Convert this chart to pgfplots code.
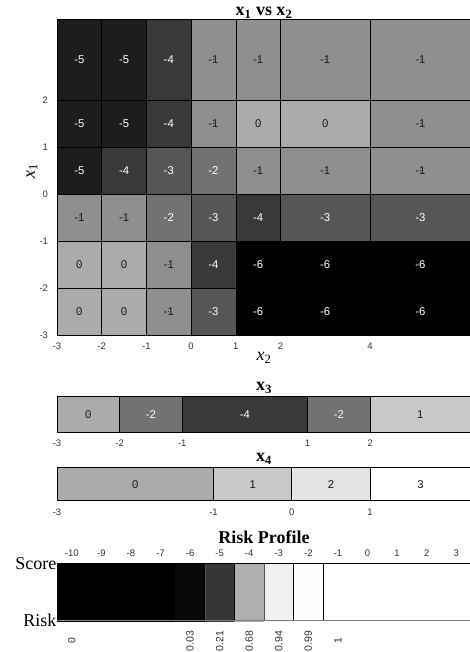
\documentclass[border=0pt]{standalone}
\usepackage{pgfplots}
\pgfplotsset{compat=1.18}
\usepackage{fontspec}
\setmainfont{Liberation Serif}
\setsansfont{Liberation Sans}

\pgfplotsset{
  base/.style={scale only axis,
    /pgf/number format/assume math mode=true,
    tick label style={font=\sffamily\fontsize{9.5}{11}\selectfont, text=black!80},
    major tick length=0pt,
    colormap={bw}{gray(0cm)=(0); gray(1cm)=(1)},
    axis line style={black!60, line width=0.6pt},
    every axis title/.style={font=\rmfamily\bfseries\fontsize{18}{20}\selectfont,
      at={(axis description cs:0.5,1)}, anchor=base},
  },
  cell/.style={patch, patch type=rectangle, shader=faceted, faceted color=black,
    line width=0.6pt, point meta=explicit},
  lblw/.style={only marks, mark=*, mark size=0.1pt, mark options={draw=none,fill=none},
    point meta=explicit symbolic, nodes near coords, nodes near coords align={center},
    every node near coord/.append style={font=\sffamily\fontsize{11.3}{13}\selectfont,
      text=white, inner sep=0pt}},
  lblb/.style={lblw, every node near coord/.append style={text=black!90}},
}

\begin{document}
\begin{tikzpicture}

% ---------------- x1 vs x2 heatmap ----------------
\begin{axis}[base, at={(57pt,-19pt)}, anchor=north west,
  width=414pt, height=316pt,
  xmin=-3, xmax=6.26, ymin=-3, ymax=3.72,
  xtick={-3,-2,-1,0,1,2,4}, ytick={-3,-2,-1,0,1,2},
  xticklabel style={yshift=-4.5pt}, yticklabel style={xshift=-5.5pt},
  point meta min=-6, point meta max=3,
  title={x\textsubscript{1} vs x\textsubscript{2}},
  title style={yshift=3.3pt},
  xlabel={\textit{x}\textsubscript{2}}, ylabel={\textit{x}\textsubscript{1}},
  every axis x label/.style={at={(axis description cs:0.5,0)}, anchor=center,
    yshift=-23pt, font=\rmfamily\fontsize{18}{20}\selectfont},
  every axis y label/.style={at={([xshift=-25pt]axis description cs:0,0.52)},
    anchor=center, rotate=90, font=\rmfamily\fontsize{18}{20}\selectfont},
]
\addplot[cell] coordinates {
 (-3,2)[-5] (-2,2)[-5] (-2,3.72)[-5] (-3,3.72)[-5]
 (-2,2)[-5] (-1,2)[-5] (-1,3.72)[-5] (-2,3.72)[-5]
 (-1,2)[-4] (0,2)[-4] (0,3.72)[-4] (-1,3.72)[-4]
 (0,2)[-1] (1,2)[-1] (1,3.72)[-1] (0,3.72)[-1]
 (1,2)[-1] (2,2)[-1] (2,3.72)[-1] (1,3.72)[-1]
 (2,2)[-1] (4,2)[-1] (4,3.72)[-1] (2,3.72)[-1]
 (4,2)[-1] (6.26,2)[-1] (6.26,3.72)[-1] (4,3.72)[-1]
 (-3,1)[-5] (-2,1)[-5] (-2,2)[-5] (-3,2)[-5]
 (-2,1)[-5] (-1,1)[-5] (-1,2)[-5] (-2,2)[-5]
 (-1,1)[-4] (0,1)[-4] (0,2)[-4] (-1,2)[-4]
 (0,1)[-1] (1,1)[-1] (1,2)[-1] (0,2)[-1]
 (1,1)[0] (2,1)[0] (2,2)[0] (1,2)[0]
 (2,1)[0] (4,1)[0] (4,2)[0] (2,2)[0]
 (4,1)[-1] (6.26,1)[-1] (6.26,2)[-1] (4,2)[-1]
 (-3,0)[-5] (-2,0)[-5] (-2,1)[-5] (-3,1)[-5]
 (-2,0)[-4] (-1,0)[-4] (-1,1)[-4] (-2,1)[-4]
 (-1,0)[-3] (0,0)[-3] (0,1)[-3] (-1,1)[-3]
 (0,0)[-2] (1,0)[-2] (1,1)[-2] (0,1)[-2]
 (1,0)[-1] (2,0)[-1] (2,1)[-1] (1,1)[-1]
 (2,0)[-1] (4,0)[-1] (4,1)[-1] (2,1)[-1]
 (4,0)[-1] (6.26,0)[-1] (6.26,1)[-1] (4,1)[-1]
 (-3,-1)[-1] (-2,-1)[-1] (-2,0)[-1] (-3,0)[-1]
 (-2,-1)[-1] (-1,-1)[-1] (-1,0)[-1] (-2,0)[-1]
 (-1,-1)[-2] (0,-1)[-2] (0,0)[-2] (-1,0)[-2]
 (0,-1)[-3] (1,-1)[-3] (1,0)[-3] (0,0)[-3]
 (1,-1)[-4] (2,-1)[-4] (2,0)[-4] (1,0)[-4]
 (2,-1)[-3] (4,-1)[-3] (4,0)[-3] (2,0)[-3]
 (4,-1)[-3] (6.26,-1)[-3] (6.26,0)[-3] (4,0)[-3]
 (-3,-2)[0] (-2,-2)[0] (-2,-1)[0] (-3,-1)[0]
 (-2,-2)[0] (-1,-2)[0] (-1,-1)[0] (-2,-1)[0]
 (-1,-2)[-1] (0,-2)[-1] (0,-1)[-1] (-1,-1)[-1]
 (0,-2)[-4] (1,-2)[-4] (1,-1)[-4] (0,-1)[-4]
 (1,-2)[-6] (2,-2)[-6] (2,-1)[-6] (1,-1)[-6]
 (2,-2)[-6] (4,-2)[-6] (4,-1)[-6] (2,-1)[-6]
 (4,-2)[-6] (6.26,-2)[-6] (6.26,-1)[-6] (4,-1)[-6]
 (-3,-3)[0] (-2,-3)[0] (-2,-2)[0] (-3,-2)[0]
 (-2,-3)[0] (-1,-3)[0] (-1,-2)[0] (-2,-2)[0]
 (-1,-3)[-1] (0,-3)[-1] (0,-2)[-1] (-1,-2)[-1]
 (0,-3)[-3] (1,-3)[-3] (1,-2)[-3] (0,-2)[-3]
 (1,-3)[-6] (2,-3)[-6] (2,-2)[-6] (1,-2)[-6]
 (2,-3)[-6] (4,-3)[-6] (4,-2)[-6] (2,-2)[-6]
 (4,-3)[-6] (6.26,-3)[-6] (6.26,-2)[-6] (4,-2)[-6]
};
\addplot[lblw] coordinates {
 (-2.5,2.86)[-5] (-1.5,2.86)[-5] (-0.5,2.86)[-4]
 (-2.5,1.5)[-5] (-1.5,1.5)[-5] (-0.5,1.5)[-4]
 (-2.5,0.5)[-5] (-1.5,0.5)[-4] (-0.5,0.5)[-3] (0.5,0.5)[-2]
 (-0.5,-0.5)[-2] (0.5,-0.5)[-3] (1.5,-0.5)[-4] (3,-0.5)[-3] (5.13,-0.5)[-3]
 (0.5,-1.5)[-4] (1.5,-1.5)[-6] (3,-1.5)[-6] (5.13,-1.5)[-6]
 (0.5,-2.5)[-3] (1.5,-2.5)[-6] (3,-2.5)[-6] (5.13,-2.5)[-6]
};
\addplot[lblb] coordinates {
 (0.5,2.86)[-1] (1.5,2.86)[-1] (3,2.86)[-1] (5.13,2.86)[-1]
 (0.5,1.5)[-1] (1.5,1.5)[0] (3,1.5)[0] (5.13,1.5)[-1]
 (1.5,0.5)[-1] (3,0.5)[-1] (5.13,0.5)[-1]
 (-2.5,-0.5)[-1] (-1.5,-0.5)[-1]
 (-2.5,-1.5)[0] (-1.5,-1.5)[0] (-0.5,-1.5)[-1]
 (-2.5,-2.5)[0] (-1.5,-2.5)[0] (-0.5,-2.5)[-1]
};
\end{axis}

% ---------------- x3 ----------------
\begin{axis}[base, at={(57pt,-396pt)}, anchor=north west,
  width=414pt, height=36.3pt,
  xmin=-3, xmax=3.61, ymin=0, ymax=1,
  xtick={-3,-2,-1,1,2}, ytick=\empty,
  xticklabel style={yshift=-4.5pt},
  point meta min=-6, point meta max=3,
  title={x\textsubscript{3}}, title style={yshift=5.3pt},
]
\addplot[cell] coordinates {
 (-3,0)[0] (-2,0)[0] (-2,1)[0] (-3,1)[0]
 (-2,0)[-2] (-1,0)[-2] (-1,1)[-2] (-2,1)[-2]
 (-1,0)[-4] (1,0)[-4] (1,1)[-4] (-1,1)[-4]
 (1,0)[-2] (2,0)[-2] (2,1)[-2] (1,1)[-2]
 (2,0)[1] (3.61,0)[1] (3.61,1)[1] (2,1)[1]
};
\addplot[lblw] coordinates {(-1.5,0.5)[-2] (0,0.5)[-4] (1.5,0.5)[-2]};
\addplot[lblb] coordinates {(-2.5,0.5)[0] (2.8,0.5)[1]};
\end{axis}

% ---------------- x4 ----------------
\begin{axis}[base, at={(57pt,-467.7pt)}, anchor=north west,
  width=414pt, height=33pt,
  xmin=-3, xmax=2.29, ymin=0, ymax=1,
  xtick={-3,-1,0,1}, ytick=\empty,
  xticklabel style={yshift=-4.5pt},
  point meta min=-6, point meta max=3,
  title={x\textsubscript{4}}, title style={yshift=6pt},
]
\addplot[cell] coordinates {
 (-3,0)[0] (-1,0)[0] (-1,1)[0] (-3,1)[0]
 (-1,0)[1] (0,0)[1] (0,1)[1] (-1,1)[1]
 (0,0)[2] (1,0)[2] (1,1)[2] (0,1)[2]
 (1,0)[3] (2.29,0)[3] (2.29,1)[3] (1,1)[3]
};
\addplot[lblb] coordinates {(-2,0.5)[0] (-0.5,0.5)[1] (0.5,0.5)[2] (1.645,0.5)[3]};
\end{axis}

% ---------------- Risk profile ----------------
\begin{axis}[base, at={(57pt,-563.3pt)}, anchor=north west,
  width=414pt, height=57.4pt,
  xmin=-10.5, xmax=3.5, ymin=0, ymax=1, clip=false,
  xtick={-10,-9,...,3}, xticklabel pos=upper,
  xticklabel style={yshift=3.5pt},
  major tick length=3pt, tick align=inside,
  xtick style={black!45, line width=0.6pt},
  ytick style={draw=none},
  ytick={0,1}, yticklabels={Risk,Score},
  yticklabel style={font=\rmfamily\fontsize{18}{20}\selectfont, text=black, xshift=3pt},
  point meta min=0, point meta max=1,
  axis line style={draw=none},
  title={Risk Profile}, title style={yshift=20pt},
]
\addplot[patch, patch type=rectangle, shader=faceted, faceted color=mapped color,
  line width=0.4pt, point meta=explicit] coordinates {
 (-10.5,0)[0] (-9.5,0)[0] (-9.5,1)[0] (-10.5,1)[0]
 (-9.5,0)[0] (-8.5,0)[0] (-8.5,1)[0] (-9.5,1)[0]
 (-8.5,0)[0] (-7.5,0)[0] (-7.5,1)[0] (-8.5,1)[0]
 (-7.5,0)[0] (-6.5,0)[0] (-6.5,1)[0] (-7.5,1)[0]
 (-6.5,0)[0.03] (-5.5,0)[0.03] (-5.5,1)[0.03] (-6.5,1)[0.03]
 (-5.5,0)[0.21] (-4.5,0)[0.21] (-4.5,1)[0.21] (-5.5,1)[0.21]
 (-4.5,0)[0.68] (-3.5,0)[0.68] (-3.5,1)[0.68] (-4.5,1)[0.68]
 (-3.5,0)[0.94] (-2.5,0)[0.94] (-2.5,1)[0.94] (-3.5,1)[0.94]
 (-2.5,0)[0.99] (-1.5,0)[0.99] (-1.5,1)[0.99] (-2.5,1)[0.99]
 (-1.5,0)[1] (-0.5,0)[1] (-0.5,1)[1] (-1.5,1)[1]
 (-0.5,0)[1] (0.5,0)[1] (0.5,1)[1] (-0.5,1)[1]
 (0.5,0)[1] (1.5,0)[1] (1.5,1)[1] (0.5,1)[1]
 (1.5,0)[1] (2.5,0)[1] (2.5,1)[1] (1.5,1)[1]
 (2.5,0)[1] (3.5,0)[1] (3.5,1)[1] (2.5,1)[1]
};
% separators and borders (outlines of zero-width patches)
\addplot[patch, patch type=rectangle, shader=faceted, faceted color=black,
  line width=0.8pt, point meta=explicit] coordinates {
 (-5.5,0)[1] (-5.5,0)[1] (-5.5,1)[1] (-5.5,1)[1]
 (-4.5,0)[1] (-4.5,0)[1] (-4.5,1)[1] (-4.5,1)[1]
 (-3.5,0)[1] (-3.5,0)[1] (-3.5,1)[1] (-3.5,1)[1]
 (-2.5,0)[1] (-2.5,0)[1] (-2.5,1)[1] (-2.5,1)[1]
 (-1.5,0)[1] (-1.5,0)[1] (-1.5,1)[1] (-1.5,1)[1]
 (-10.5,0)[1] (-10.5,0)[1] (-10.5,1)[1] (-10.5,1)[1]
 (-10.5,1)[1] (3.5,1)[1] (3.5,1)[1] (-10.5,1)[1]
};
\addplot[patch, patch type=rectangle, shader=faceted, faceted color=black!50,
  line width=1pt, point meta=explicit] coordinates {
 (-10.5,0)[1] (3.5,0)[1] (3.5,0)[1] (-10.5,0)[1]
};
\addplot[lblb, every node near coord/.append style={rotate=90,
   font=\sffamily\fontsize{10.5}{12}\selectfont, text=black!80}]
 coordinates {(-10,-0.35)[0] (-6,-0.35)[0.03] (-5,-0.35)[0.21] (-4,-0.35)[0.68]
  (-3,-0.35)[0.94] (-2,-0.35)[0.99] (-1,-0.35)[1]};
\end{axis}

\pgfresetboundingbox
\path[use as bounding box] (0,0) rectangle (469pt,-652pt);
\end{tikzpicture}
\end{document}
